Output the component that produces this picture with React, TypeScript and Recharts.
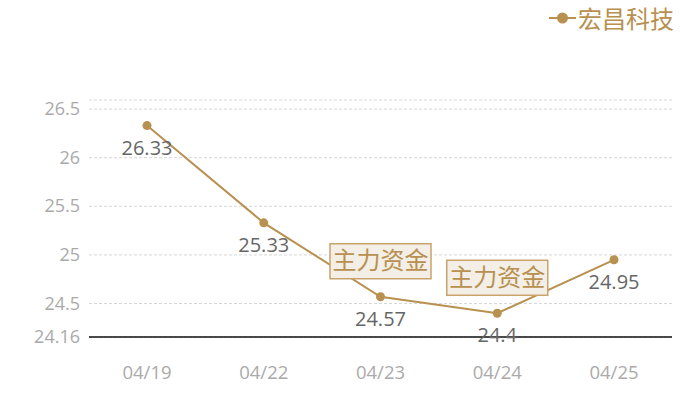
import { LineChart, Line, XAxis, YAxis, CartesianGrid, LabelList, ReferenceDot, ReferenceLine } from "recharts";

const dates = ["04/19", "04/22", "04/23", "04/24", "04/25"];
const prices = [26.33, 25.33, 24.57, 24.4, 24.95];
const seriesName = "宏昌科技";
const flagText = "主力资金";
const flagDates = ["04/23", "04/24"];

const gold = "#b8904f";
const font = "'Open Sans', 'Noto Sans CJK SC', sans-serif";

const data = dates.map((d, i) => ({ d, p: prices[i] }));

const yMin = Math.min(...prices) * 0.99;
const yMax = Math.max(...prices) * 1.01;
const yTicks = [yMin, 24.5, 25, 25.5, 26, 26.5, yMax];

function YTick({ x, y, payload }: any) {
  const v = payload.value;
  if (Math.abs(v - yMax) < 1e-6) return null;
  const label = Math.abs(v - yMin) < 1e-6 ? v.toFixed(2) : String(v);
  return (
    <text x={x - 1} y={y} dy={6} textAnchor="end" fill="#aaa" fontSize={18} fontFamily={font}>
      {label}
    </text>
  );
}

function XTick({ x, y, payload }: any) {
  return (
    <text x={x} y={y} dy={34} textAnchor="middle" fill="#aaa" fontSize={18.5} fontFamily={font}>
      {payload.value}
    </text>
  );
}

function ValueLabel({ x, y, value }: any) {
  return (
    <text x={x} y={y} dy={29} textAnchor="middle" fill="#666" fontSize={20} fontFamily={font}>
      {value}
    </text>
  );
}

function FlagBox({ cx, cy }: any) {
  const w = 101;
  const h = 35;
  const bx = cx - w / 2;
  const by = cy - 53;
  return (
    <g>
      <rect x={bx} y={by} width={w} height={h} fill="#f3eee6" stroke="#c8a46c" strokeWidth={1.5} />
      <text x={cx} y={by + h / 2} dy={8} textAnchor="middle" fill={gold} fontSize={24} fontFamily={font}>
        {flagText}
      </text>
    </g>
  );
}

export default function App() {
  return (
    <div style={{ position: "absolute", left: 0, top: 0, width: 700, height: 400, background: "#fff" }}>
      <LineChart width={700} height={400} data={data} margin={{ top: 100, right: 28, left: 0, bottom: 0 }}>
        <CartesianGrid vertical={false} stroke="#d6d6d6" strokeDasharray="3 2" />
        <XAxis
          dataKey="d"
          height={63}
          padding={{ left: 58, right: 58 }}
          tickLine={false}
          axisLine={false}
          tick={<XTick />}
          interval={0}
        />
        <YAxis
          width={89}
          domain={[yMin, yMax]}
          ticks={yTicks}
          type="number"
          axisLine={false}
          tickLine={false}
          tick={<YTick />}
          interval={0}
        />
        {/* x axis line, drawn over the bottom grid row */}
        <ReferenceLine y={yMin} stroke="#111" strokeWidth={1.3} strokeDasharray="0" />
        <Line
          dataKey="p"
          stroke={gold}
          strokeWidth={2}
          dot={{ r: 4.5, fill: gold, stroke: gold, strokeWidth: 0 }}
          isAnimationActive={false}
        >
          <LabelList dataKey="p" content={<ValueLabel />} />
        </Line>
        {flagDates.map((d) => (
          <ReferenceDot
            key={d}
            x={d}
            y={prices[dates.indexOf(d)]}
            shape={<FlagBox />}
            ifOverflow="visible"
          />
        ))}
      </LineChart>
      <div
        style={{
          position: "absolute",
          top: 0,
          left: 549,
          display: "flex",
          alignItems: "center",
          fontFamily: font,
          fontSize: 24,
          color: gold,
        }}
      >
        <svg width={27} height={14} style={{ marginRight: 2 }}>
          <line x1={0} y1={7} x2={27} y2={7} stroke={gold} strokeWidth={2} />
          <circle cx={13.5} cy={7} r={5.5} fill={gold} />
        </svg>
        <span>{seriesName}</span>
      </div>
    </div>
  );
}
